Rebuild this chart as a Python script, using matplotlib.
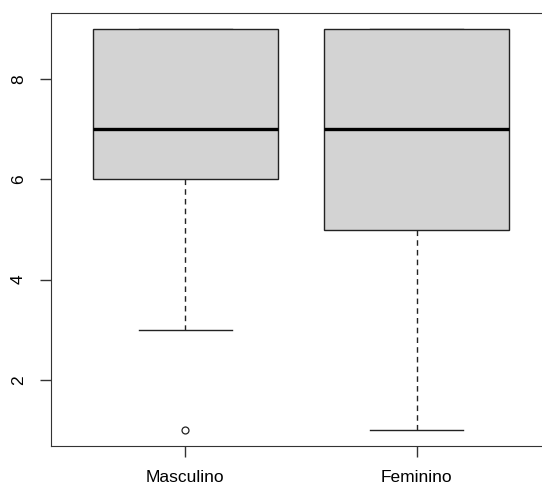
import matplotlib
matplotlib.use("Agg")
import matplotlib.pyplot as plt

plt.rcParams['font.family'] = ['Liberation Sans', 'DejaVu Sans']

groups = ["Masculino", "Feminino"]
whisker_low = [3, 1]
q1 = [6, 5]
median = [7, 7]
q3 = [9, 9]
whisker_high = [9, 9]
outliers = [[1], []]

stats = []
for i, name in enumerate(groups):
    stats.append({
        "label": name,
        "whislo": whisker_low[i],
        "q1": q1[i],
        "med": median[i],
        "q3": q3[i],
        "whishi": whisker_high[i],
        "fliers": outliers[i],
    })

fig = plt.figure(figsize=(5.42, 4.86), dpi=100)
# right side of the plot region runs off the image, as in the original
ax = fig.add_axes([51/542, 40/486, 500/542, 433/486])

ax.bxp(stats, positions=[1, 2], widths=0.8, patch_artist=True,
       boxprops=dict(facecolor="#d3d3d3", edgecolor="#222222", linewidth=1, zorder=3),
       medianprops=dict(color="black", linewidth=2.4, solid_capstyle="butt", zorder=4),
       whiskerprops=dict(color="#222222", linewidth=1, linestyle=(0, (4, 3)), zorder=2),
       capprops=dict(color="#222222", linewidth=1, zorder=2),
       capwidths=0.4,
       flierprops=dict(marker="o", markerfacecolor="none", markeredgecolor="#222222",
                       markersize=5, markeredgewidth=0.9))

ax.set_xlim(0.42, 2.58)
ax.set_ylim(0.68, 9.32)
ax.set_yticks([2, 4, 6, 8])
ax.set_yticklabels(["2", "4", "6", "8"], rotation=90, va="center")
ax.set_xticks([1, 2])
ax.set_xticklabels(groups)
ax.tick_params(length=8, width=1, color="#333333", labelsize=12.5, pad=10)
ax.tick_params(axis="x", pad=9)
for s in ["left", "bottom", "top"]:
    ax.spines[s].set_color("#333333")
ax.spines["right"].set_visible(False)

fig.savefig("out.png", dpi=100)
